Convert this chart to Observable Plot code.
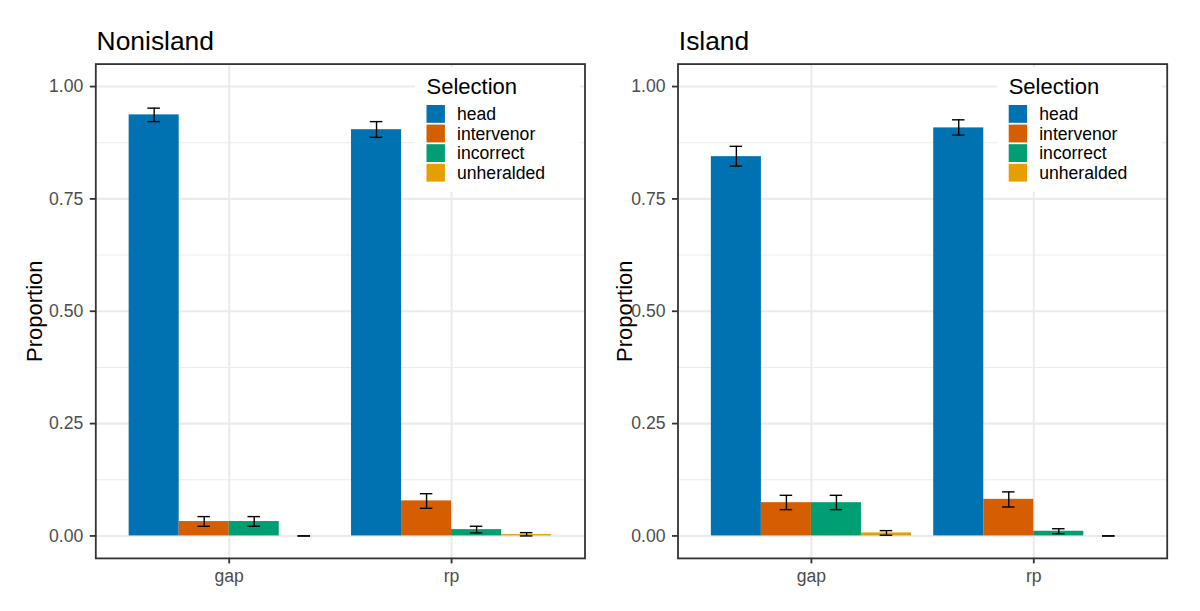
<!DOCTYPE html>
<html>
<head>
<meta charset="utf-8">
<script src="https://cdn.jsdelivr.net/npm/d3@7"></script>
<script src="https://cdn.jsdelivr.net/npm/@observablehq/plot@0.6"></script>
<style>
  html, body { margin: 0; padding: 0; background: white; }
  #chart { position: relative; width: 1200px; height: 611px; overflow: hidden; background: white; }
  #chart svg { position: absolute; top: 0; }
</style>
</head>
<body>
<div id="chart"></div>
<script>
// ---- data ----
const categories = ["gap", "rp"];
const selections = ["head", "intervenor", "incorrect", "unheralded"];
const palette = ["#0072B2", "#D55E00", "#009E73", "#E69F00"];
const panels = ["Nonisland", "Island"];

// mean proportion, per category (gap, rp), per selection (head, intervenor, incorrect, unheralded)
const nonislandMean = [[0.937, 0.032, 0.032, 0.000], [0.904, 0.078, 0.014, 0.003]];
const nonislandLow  = [[0.922, 0.0215, 0.0215, 0.000], [0.887, 0.0615, 0.0067, 0.000]];
const nonislandHigh = [[0.952, 0.043, 0.043, 0.000], [0.922, 0.094, 0.0215, 0.0073]];

const islandMean = [[0.844, 0.074, 0.074, 0.0067], [0.908, 0.0815, 0.0104, 0.000]];
const islandLow  = [[0.823, 0.0585, 0.0585, 0.0015], [0.892, 0.0644, 0.005, 0.000]];
const islandHigh = [[0.867, 0.0904, 0.0904, 0.0118], [0.926, 0.098, 0.016, 0.000]];

const yMajor = [0, 0.25, 0.5, 0.75, 1];
const yMinor = [0.125, 0.375, 0.625, 0.875];

// ---- build ----
function rowsFor(mean, low, high) {
  const rows = [];
  categories.forEach((c, ci) => {
    selections.forEach((s, si) => {
      rows.push({cat: c, ci: ci + 1, sel: s, si, mean: mean[ci][si], lo: low[ci][si], hi: high[ci][si]});
    });
  });
  return rows;
}

const dodge = 0.9 / selections.length;
const center = d => d.ci + (d.si - (selections.length - 1) / 2) * dodge;
const capHalf = dodge * 0.125;

const font = "'Liberation Sans', Arial, Helvetica, sans-serif";

function makePanel(title, rows, left, width, marginLeft, marginRight) {
  const marginTop = 63.6, height = 611, marginBottom = 53.1;
  const plot = Plot.plot({
    width, height, marginLeft, marginRight, marginTop, marginBottom,
    style: {fontFamily: font, background: "transparent", overflow: "visible"},
    x: {domain: [0.4, 2.6]},
    y: {domain: [-0.05, 1.05]},
    color: {domain: selections, range: palette},
    marks: [
      Plot.ruleY(yMinor, {stroke: "#ebebeb", strokeWidth: 1.07}),
      Plot.ruleY(yMajor, {stroke: "#ebebeb", strokeWidth: 2.1}),
      Plot.ruleX(categories.map((c, i) => i + 1), {stroke: "#ebebeb", strokeWidth: 2.1}),
      Plot.rectY(rows, {
        x1: d => center(d) - dodge / 2,
        x2: d => center(d) + dodge / 2,
        y1: 0, y2: "mean", fill: "sel"
      }),
      Plot.ruleX(rows, {x: center, y1: "lo", y2: "hi", stroke: "black", strokeWidth: 1.4}),
      Plot.ruleY(rows, {y: "lo", x1: d => center(d) - capHalf, x2: d => center(d) + capHalf, stroke: "black", strokeWidth: 1.4}),
      Plot.ruleY(rows, {y: "hi", x1: d => center(d) - capHalf, x2: d => center(d) + capHalf, stroke: "black", strokeWidth: 1.4}),
      Plot.frame({stroke: "#333333", strokeWidth: 1.8}),
      Plot.axisY({
        ticks: yMajor, tickFormat: d3.format(".2f"), tickSize: 5.5, tickPadding: 7,
        fontSize: 17.6, color: "#4d4d4d", stroke: "#333333", strokeWidth: 1.8, label: null
      }),
      Plot.axisX({
        ticks: categories.map((c, i) => i + 1), tickFormat: v => categories[v - 1],
        tickSize: 5.5, tickPadding: 5.5, fontSize: 17.6, color: "#4d4d4d", stroke: "#333333", strokeWidth: 1.8, label: null
      }),
      Plot.text([title], {
        frameAnchor: "top-left", textAnchor: "start", lineAnchor: "bottom",
        dx: 0.8, dy: -(marginTop - 49), fontSize: 26.4, fill: "black"
      }),
      Plot.text(["Proportion"], {
        frameAnchor: "left", rotate: -90, textAnchor: "middle", lineAnchor: "bottom",
        dx: 41.5 - marginLeft, fontSize: 22, fill: "black"
      })
    ]
  });
  plot.style.left = left + "px";

  // legend inside the panel (top-right)
  const color = plot.scale("color");
  const edge = width - marginRight;
  const g = d3.select(plot).append("g").attr("font-family", font).attr("text-anchor", "start");
  g.append("rect").attr("x", edge - 169.5).attr("y", 67).attr("width", 165).attr("height", 125).attr("fill", "white");
  g.append("text").attr("x", edge - 158).attr("y", 94).attr("font-size", 22).attr("fill", "black").text("Selection");
  color.domain.forEach((s, i) => {
    const y = 105 + i * 19.6;
    g.append("rect").attr("x", edge - 158).attr("y", y).attr("width", 18.4).attr("height", 17.8).attr("fill", color.apply(s));
    g.append("text").attr("x", edge - 127.5).attr("y", y + 8.9).attr("dy", "0.35em")
      .attr("font-size", 17.6).attr("fill", "black").text(s);
  });
  return plot;
}

const chart = document.getElementById("chart");
chart.appendChild(makePanel(panels[0], rowsFor(nonislandMean, nonislandLow, nonislandHigh), 0, 590, 95.3, 5.5));
chart.appendChild(makePanel(panels[1], rowsFor(islandMean, islandLow, islandHigh), 590, 610, 87.5, 33.3));
</script>
</body>
</html>
